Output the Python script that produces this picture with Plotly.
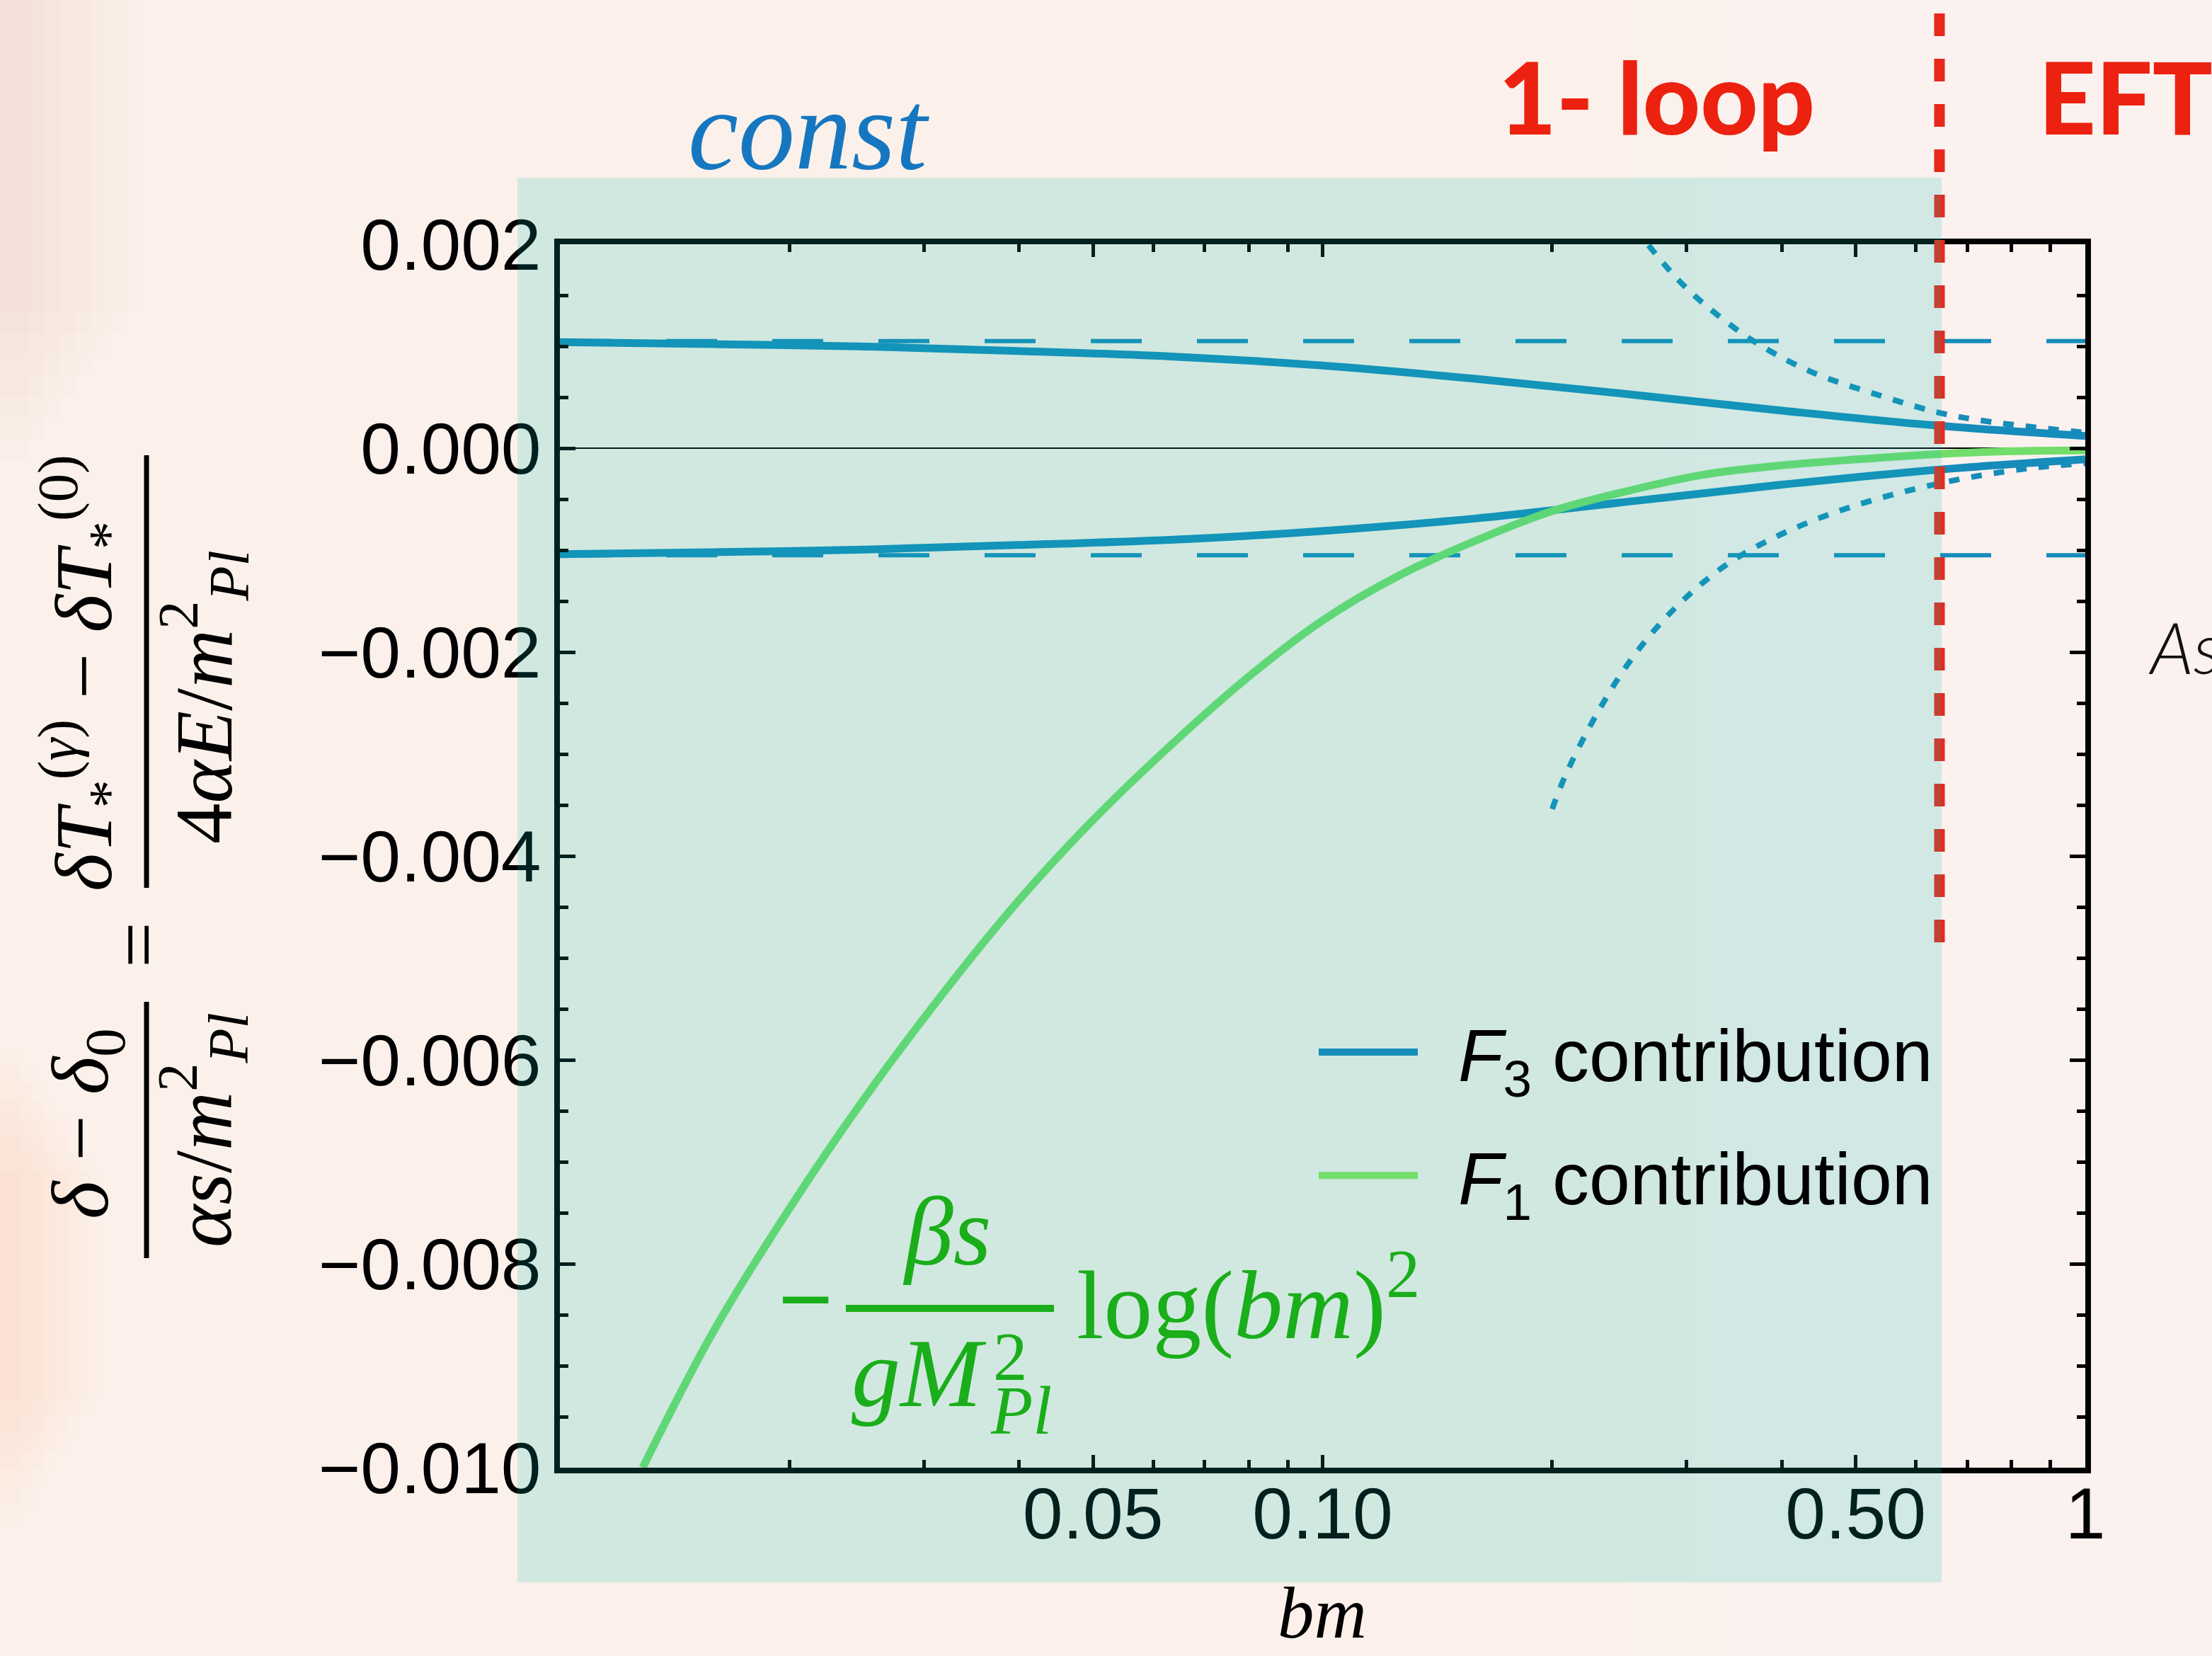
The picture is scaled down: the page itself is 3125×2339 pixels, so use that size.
import plotly.graph_objects as go

# ---------------- data ----------------
bm_f3 = [0.01, 0.01585, 0.02512, 0.03981, 0.0631, 0.1, 0.1585, 0.2512, 0.3981, 0.631, 1.0]
f3_upper = [0.00104, 0.00102, 0.000997, 0.000953, 0.000900, 0.00081, 0.00068, 0.00053,
            0.00037, 0.000225, 0.00012]
f3_lower = [-0.00104, -0.00102, -0.000995, -0.00095, -0.00090, -0.000812, -0.00069, -0.000525,
            -0.00036, -0.000215, -0.00011]

bm_f1 = [0.01284, 0.01585, 0.01995, 0.02512, 0.03162, 0.03981, 0.05012, 0.0631, 0.07943, 0.1,
         0.1259, 0.1585, 0.1995, 0.2512, 0.3162, 0.3981, 0.5012, 0.631, 0.7943, 1.0]
f1_vals = [-0.0100, -0.00868, -0.00747, -0.00637, -0.00537, -0.00445, -0.00364, -0.00292,
           -0.00226, -0.00169, -0.00125, -0.00091, -0.00062, -0.00042, -0.00026, -0.00017,
           -0.00011, -0.00006, -0.00003, -0.00002]

bm_asym_up = [0.2675, 0.2918, 0.315, 0.3665, 0.436, 0.543, 0.644, 0.753, 1.0]
asym_up = [0.00199, 0.00166, 0.001426, 0.001055, 0.000753, 0.000507, 0.000347, 0.000257, 0.000153]
bm_asym_lo = [0.2, 0.208, 0.2273, 0.2534, 0.2885, 0.336, 0.3915, 0.4867, 0.644, 0.839, 1.0]
asym_lo = [-0.00354, -0.003215, -0.002646, -0.002081, -0.001583, -0.00116, -0.000875,
           -0.00059, -0.000345, -0.0002, -0.00015]

const_level = 0.00105
bm_span = [0.01, 1.0]

x_tickvals = [0.05, 0.1, 0.5, 1]
x_ticktext = ["0.05", "0.10", "0.50", "1"]
x_minor = [0.02, 0.03, 0.04, 0.06, 0.07, 0.08, 0.09, 0.2, 0.3, 0.4, 0.6, 0.7, 0.8, 0.9]
y_tickvals = [-0.010, -0.008, -0.006, -0.004, -0.002, 0.0, 0.002]
y_ticktext = ["\u22120.010", "\u22120.008", "\u22120.006", "\u22120.004", "\u22120.002", "0.000", "0.002"]

# ---------------- geometry helpers (pixels -> paper) ----------------
W, H = 3125, 2339
L, R, T, B = 791, 2946, 345, 2073


def px(X):
    return (X - L) / (R - L)


def py(Y):
    return (B - Y) / (B - T)


BLUE = "#168cbb"
GREEN = "#72dd6a"
RED = "#e8281a"
SANS = "Liberation Sans, Arial, Helvetica, sans-serif"
SERIF = "Liberation Serif, Times New Roman, serif"

fig = go.Figure()

# dashed constant levels
for lvl in (const_level, -const_level):
    fig.add_trace(go.Scatter(x=bm_span, y=[lvl, lvl], mode="lines", showlegend=False,
                             line=dict(color=BLUE, width=6, dash="72px,78px"), hoverinfo="skip"))

# dotted asymptotic curves
fig.add_trace(go.Scatter(x=bm_asym_up, y=asym_up, mode="lines", showlegend=False,
                         line=dict(color=BLUE, width=8, dash="15px,17px", shape="spline"), hoverinfo="skip"))
fig.add_trace(go.Scatter(x=bm_asym_lo, y=asym_lo, mode="lines", showlegend=False,
                         line=dict(color=BLUE, width=8, dash="15px,17px", shape="spline"), hoverinfo="skip"))

# F3 contribution (two branches)
fig.add_trace(go.Scatter(x=bm_f3, y=f3_upper, mode="lines",
                         name="\u2002<i>F</i><sub>3</sub> contribution",
                         legendgroup="f3", legendrank=1,
                         line=dict(color=BLUE, width=11, shape="spline")))
fig.add_trace(go.Scatter(x=bm_f3, y=f3_lower, mode="lines", showlegend=False, legendgroup="f3",
                         line=dict(color=BLUE, width=11, shape="spline")))

# F1 contribution
fig.add_trace(go.Scatter(x=bm_f1, y=f1_vals, mode="lines",
                         name="\u2002<i>F</i><sub>1</sub> contribution",
                         legendgroup="f1", legendrank=2,
                         line=dict(color=GREEN, width=11, shape="spline")))

axis_common = dict(
    showline=True, linecolor="black", linewidth=8, mirror="allticks",
    ticks="inside", tickcolor="black", tickwidth=5,
    showgrid=False,
    tickfont=dict(family=SANS, size=102, color="black"),
)

fig.update_xaxes(type="log", range=[-2, 0], tickmode="array", tickvals=x_tickvals, ticktext=x_ticktext,
                 ticklen=18, zeroline=False, ticklabelstandoff=-30,
                 minor=dict(tickmode="array", tickvals=x_minor, ticks="inside", ticklen=11,
                            tickwidth=5, tickcolor="black", showgrid=False),
                 **axis_common)
fig.update_yaxes(range=[-0.010, 0.002], tickmode="array", tickvals=y_tickvals, ticktext=y_ticktext,
                 ticklen=22, zeroline=True, zerolinecolor="black", zerolinewidth=2,
                 ticklabelstandoff=-2,
                 minor=dict(dtick=0.0005, tick0=0, ticks="inside", ticklen=12,
                            tickwidth=5, tickcolor="black", showgrid=False),
                 **axis_common)

shapes = []


def bg_rect(X0, Y0, X1, Y1, color, op):
    shapes.append(dict(type="rect", xref="paper", yref="paper", x0=px(X0), x1=px(X1),
                       y0=py(Y1), y1=py(Y0), fillcolor=color, opacity=op,
                       line=dict(width=0), layer="below"))


# subtle paper texture: tan wash on the left edge, lighter toward the right
for i in range(8):
    bg_rect(0, 0, 40 + 22 * i, 650 - 30 * i, "rgb(226,190,158)", 0.025)
    bg_rect(0, 1480 + 25 * i, 30 + 16 * i, 2150 - 25 * i, "rgb(236,180,140)", 0.025)
for i in range(10):
    bg_rect(2300 + 45 * i, 0, W, H, "rgb(255,255,255)", 0.06)

# red separator
shapes.append(dict(type="line", xref="paper", yref="paper", x0=px(2740), x1=px(2740),
                   y0=py(19), y1=py(1331), line=dict(color=RED, width=15, dash="32px,32px"),
                   layer="above"))
# translucent shaded region
shapes.append(dict(type="rect", xref="paper", yref="paper", x0=px(731), x1=px(2743),
                   y0=py(2235), y1=py(251), fillcolor="rgb(5,192,180)", opacity=0.17,
                   line=dict(width=0), layer="above"))
# fraction bar in green formula
shapes.append(dict(type="line", xref="paper", yref="paper", x0=px(1195), x1=px(1489),
                   y0=py(1848), y1=py(1848), line=dict(color="#1aae1a", width=10), layer="above"))
# fraction bars of y title
shapes.append(dict(type="line", xref="paper", yref="paper", x0=px(207), x1=px(207),
                   y0=py(643), y1=py(1254), line=dict(color="black", width=7), layer="above"))
shapes.append(dict(type="line", xref="paper", yref="paper", x0=px(207), x1=px(207),
                   y0=py(1415), y1=py(1777), line=dict(color="black", width=7), layer="above"))

ann = []


def A(text, X, Y, size, family=SERIF, color="black", xanchor="center", yanchor="middle",
      angle=0, weight="normal", style="normal"):
    ann.append(dict(text=text, x=px(X), y=py(Y), xref="paper", yref="paper", showarrow=False,
                    xanchor=xanchor, yanchor=yanchor, textangle=angle,
                    font=dict(family=family, size=size, color=color, weight=weight, style=style)))


A("<i>const</i>", 1142, 184, 160, color="#1677c0")
A("1- loop", 2340, 136, 141, family="Lato, Open Sans, sans-serif", color="#ec2110", weight=900)
A("EFT", 2878, 136, 141, family="Lato, Open Sans, sans-serif", color="#ec2110", weight=900,
  xanchor="left")
A("As", 3033, 913, 100, family="Lato, Open Sans, sans-serif", color="#111111", weight=300,
  style="italic", xanchor="left")
A("<i>bm</i>", 1868, 2278, 103)

GF = "#1aae1a"
A("<b>\u2212</b>", 1138, 1835, 138, color=GF)
A("<i>\u03b2s</i>", 1337, 1739, 138, color=GF)
A("<i>gM</i>", 1396, 1939, 138, color=GF, xanchor="right")
A("2", 1401, 1916, 97, color=GF, xanchor="left")
A("<i>Pl</i>", 1397, 1992, 97, color=GF, xanchor="left")
A("log(<i>bm</i>)<sup>2</sup>", 1519, 1833, 138, color=GF, xanchor="left")

# y-axis title (rotated pieces)
A("<i>\u03b4T</i><sub>*</sub><sup>(<i>\u03b3</i>)</sup> \u2212 <i>\u03b4T</i><sub>*</sub><sup>(0)</sup>",
  117, 951, 115, angle=-90)
A("4<i>\u03b1E</i>/<i>m</i><sup>2</sup><sub><i>Pl</i></sub>", 287, 985, 115, angle=-90)
A("=", 195, 1335, 115, angle=-90)
A("<i>\u03b4</i> \u2212 <i>\u03b4</i><sub>0</sub>", 121, 1587, 115, angle=-90)
A("<i>\u03b1s</i>/<i>m</i><sup>2</sup><sub><i>Pl</i></sub>", 287, 1596, 115, angle=-90)

fig.update_layout(
    width=W, height=H,
    margin=dict(l=L, r=W - R, t=T, b=H - B, pad=0),
    paper_bgcolor="#fbf1ea",
    plot_bgcolor="rgba(0,0,0,0)",
    shapes=shapes,
    annotations=ann,
    showlegend=True,
    legend=dict(x=px(1858), y=py(1412), xanchor="left", yanchor="top",
                bgcolor="rgba(0,0,0,0)", borderwidth=0,
                font=dict(family=SANS, size=104, color="black"),
                itemwidth=140, tracegroupgap=36, traceorder="grouped"),
)

fig.write_html("out.html")
